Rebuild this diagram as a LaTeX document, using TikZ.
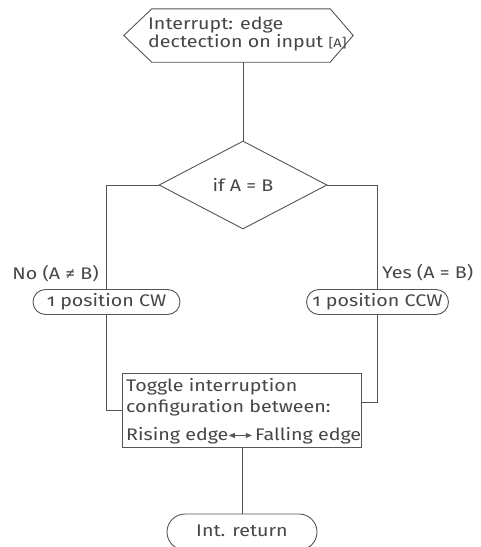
\documentclass[tikz,border=0pt]{standalone}
\usepackage{fontspec}
\setmainfont{Fira Sans}[Numbers=OldStyle,FakeStretch=1.17]
\usetikzlibrary{shapes.geometric,shapes.misc,arrows.meta}
\definecolor{txt}{HTML}{464646}
\definecolor{ln}{HTML}{555555}
\begin{document}
\begin{tikzpicture}[x=1pt,y=-1pt,
  every node/.style={text=txt,font=\fontsize{16.8}{18}\selectfont},
  conn/.style={draw=ln,line width=0.9pt},
  shp/.style={draw=ln,line width=0.9pt,fill=white},
  pill/.style={shp,rounded rectangle,minimum height=25pt,inner sep=0pt},
  lbl/.style={inner sep=0pt},
]
\useasboundingbox (0,0) rectangle (481,547);
\clip (0,0) rectangle (481,547);
% start hexagon
\node[minimum width=229pt,minimum height=53pt,inner sep=0pt] (hex) at (238.5,35.5) {};
\draw[shp] (hex.west) -- ([xshift=28pt]hex.north west) -- ([xshift=-23pt]hex.north east)
  -- (hex.east) -- ([xshift=-23pt]hex.south east) -- ([xshift=28pt]hex.south west) -- cycle;
\node[lbl,anchor=west] (h1) at (148,25) {Interrupt: edge};
\node[lbl,anchor=west] (h2) at (148,43) {dectection on input {\fontsize{12.5}{18}\selectfont[A]}};
% decision
\node[shp,diamond,aspect=1.91,minimum width=168pt,minimum height=88pt,inner sep=0pt] (dia) at (243,185) {if A = B};
\node[pill,minimum width=147pt] (cw) at (106.5,302) {1 position CW};
\node[pill,minimum width=142pt] (ccw) at (377.5,302) {1 position CCW};
\node[lbl,anchor=east] (no) at (99,274) {No (A ≠ B)};
\node[lbl,anchor=west] (yes) at (382,273) {Yes (A = B)};
% toggle box
\node[shp,rectangle,minimum width=239pt,minimum height=74pt,inner sep=0pt] (box) at (241.5,410) {};
\node[lbl,anchor=west] (t1) at (126,387) {Toggle interruption};
\node[lbl,anchor=west] (t2) at (126,408) {configuration between:};
\node[lbl,anchor=west] (t3) at (126,436) {Rising edge\tikz[baseline=-0.6ex]\draw[ln,line width=0.9pt,{Triangle[length=6pt,width=5pt]}-{Triangle[length=6pt,width=5pt]}] (0,0) -- (23pt,0);\,Falling edge};
% return
\node[pill,minimum width=150pt,minimum height=36pt] (ret) at (242,532) {\raisebox{3pt}{Int. return}};
% connectors
\draw[conn] (dia.north |- hex.south) -- (dia.north);
\draw[conn] (dia.west) -| (cw.north);
\draw[conn] (dia.east) -| (ccw.north);
\draw[conn] (cw.south) |- (box.west);
\draw[conn] (ccw.south) |- ([yshift=8pt]box.east);
\draw[conn] (box.south -| ret.north) -- (ret.north);
\end{tikzpicture}
\end{document}
